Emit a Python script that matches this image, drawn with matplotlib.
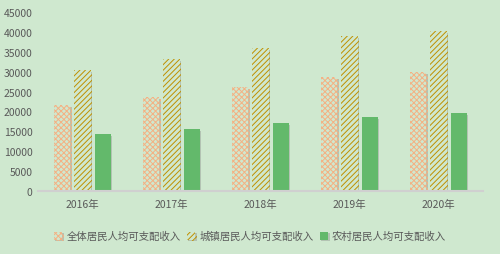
import matplotlib
matplotlib.use("Agg")
import matplotlib.pyplot as plt
import matplotlib.patheffects as pe
import numpy as np

plt.rcParams['font.family'] = ['Noto Sans CJK SC', 'DejaVu Sans']
plt.rcParams['hatch.linewidth'] = 0.7

years = ['2016年', '2017年', '2018年', '2019年', '2020年']
overall = [21600, 23550, 26050, 28600, 29900]
urban = [30400, 33200, 35850, 38950, 40200]
rural = [14300, 15600, 17100, 18600, 19600]
series_names = ['全体居民人均可支配收入', '城镇居民人均可支配收入', '农村居民人均可支配收入']
yticks = [0, 5000, 10000, 15000, 20000, 25000, 30000, 35000, 40000, 45000]

bg = '#cfe8cf'
fig = plt.figure(figsize=(5.0, 2.55), dpi=100, facecolor=bg)
ax = fig.add_axes([0.076, 0.247, 0.89, 0.702], facecolor=bg)

x = np.arange(len(years))
w = 0.18
step = 0.225
shadow = [pe.SimplePatchShadow(offset=(1.2, -1.2), shadow_rgbFace='#7f7f7f', alpha=0.35), pe.Normal()]

b1 = ax.bar(x - step, overall, w, color=bg, edgecolor='#f4b183', hatch='xxxxxx', linewidth=0, label=series_names[0])
b2 = ax.bar(x, urban, w, color=bg, edgecolor='#bf9000', hatch='//////', linewidth=0, label=series_names[1])
b3 = ax.bar(x + step, rural, w, color='#63b96b', linewidth=0, label=series_names[2])
for bars in (b1, b2, b3):
    for p in bars:
        p.set_path_effects(shadow)

ax.set_xlim(-0.5, len(years) - 0.5)
ax.set_ylim(0, 45000)
ax.set_yticks(yticks)
ax.set_yticklabels([str(v) for v in yticks])
ax.set_xticks(x)
ax.set_xticklabels(years)
ax.tick_params(axis='both', length=0, labelsize=7.5, colors='#595959')
ax.tick_params(axis='x', pad=6)
ax.tick_params(axis='y', pad=4)
for s in ['top', 'right', 'left']:
    ax.spines[s].set_visible(False)
ax.spines['bottom'].set_color('#d0d0d0')
ax.spines['bottom'].set_linewidth(1.5)

leg = fig.legend(handles=[b1, b2, b3], loc='center', bbox_to_anchor=(0.5, 0.07), ncol=3,
                 frameon=False, fontsize=7.5, handlelength=0.8, handleheight=0.8,
                 handletextpad=0.4, columnspacing=0.6, labelcolor='#595959')

fig.savefig('out.png', dpi=100, facecolor=bg)
